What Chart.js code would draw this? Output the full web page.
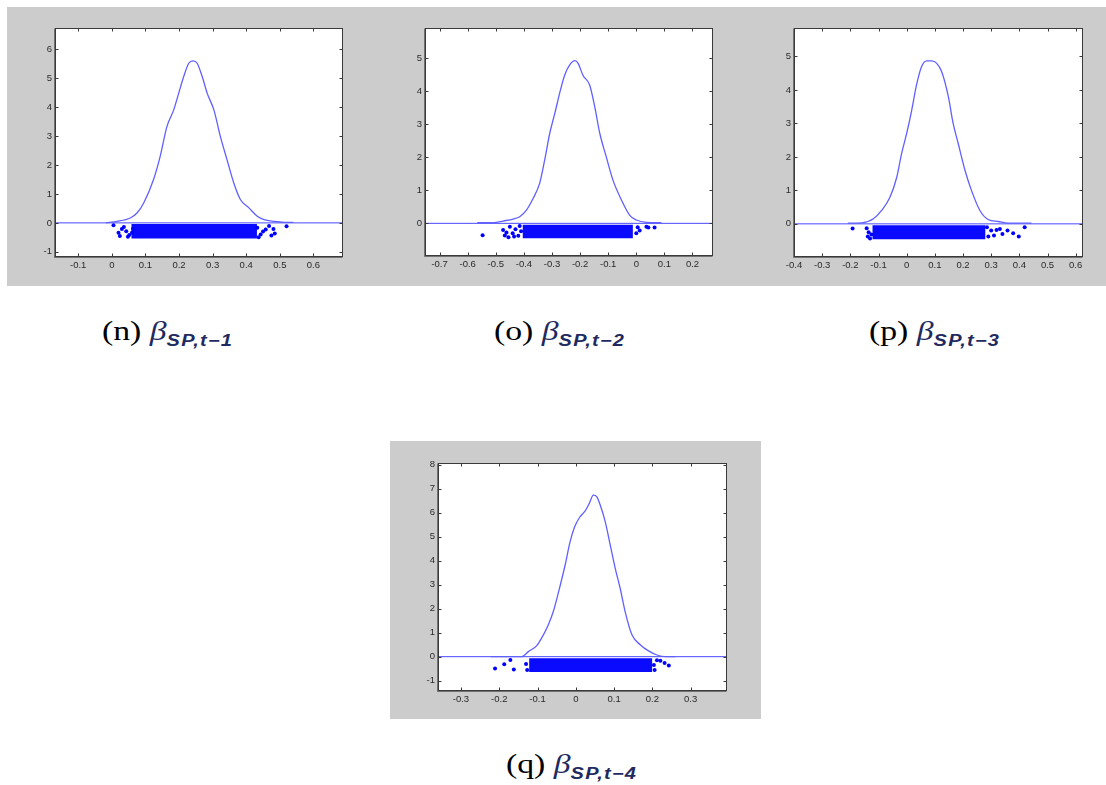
<!DOCTYPE html>
<html>
<head>
<meta charset="utf-8">
<script src="https://cdn.jsdelivr.net/npm/chart.js@4.4.1/dist/chart.umd.min.js"></script>
<style>
  html, body { margin: 0; padding: 0; background: #fff; width: 1106px; height: 785px; overflow: hidden; position: relative; }
  .bg { position: absolute; background: #cccccc; }
  .panel { position: absolute; }
  .panel canvas { display: block; }
  .cap { position: absolute; font-family: "Liberation Serif", "Times New Roman", serif; font-size: 27px; line-height: 27px;
         color: #000; white-space: nowrap; transform: scaleX(1.25); transform-origin: 0 0; }
  .cap .b { font-style: italic; color: #1f2a60; }
  .cap .s { font-family: "Liberation Sans", Arial, sans-serif; font-weight: bold; font-style: italic; font-size: 16px;
            letter-spacing: 1px; color: #1f2a60; position: relative; top: 6px; }
</style>
</head>
<body>
<div class="bg" style="left:7px;top:7px;width:1099px;height:279px"></div>
<div class="bg" style="left:390px;top:441px;width:371px;height:278px"></div>

<div class="panel" style="left:7px;top:7px"><canvas id="cn" width="365" height="279"></canvas></div>
<div class="panel" style="left:372px;top:7px"><canvas id="co" width="363" height="279"></canvas></div>
<div class="panel" style="left:735px;top:7px"><canvas id="cp" width="371" height="279"></canvas></div>
<div class="panel" style="left:390px;top:441px"><canvas id="cq" width="371" height="278"></canvas></div>

<div class="cap" style="left:102px;top:318px">(n) <span class="b">β</span><span class="s">SP,t−1</span></div>
<div class="cap" style="left:494px;top:318px">(o) <span class="b">β</span><span class="s">SP,t−2</span></div>
<div class="cap" style="left:869px;top:318px">(p) <span class="b">β</span><span class="s">SP,t−3</span></div>
<div class="cap" style="left:506px;top:751px">(q) <span class="b">β</span><span class="s">SP,t−4</span></div>

<script>
// ---- (n) beta SP,t-1 ----
const nCurveX = [-0.017, 0.015, 0.055, 0.075, 0.095, 0.124, 0.144, 0.164, 0.184, 0.199, 0.214, 0.229, 0.242, 0.254, 0.269, 0.284, 0.304, 0.323, 0.343, 0.363, 0.383, 0.408, 0.433, 0.453, 0.483, 0.512, 0.540];
const nCurveY = [0.00, 0.05, 0.17, 0.34, 0.69, 1.49, 2.30, 3.33, 3.90, 4.48, 5.06, 5.52, 5.60, 5.52, 5.06, 4.48, 3.90, 2.99, 2.18, 1.38, 0.80, 0.52, 0.23, 0.11, 0.05, 0.02, 0.02];
const nBandX = [0.058, 0.432];
const nBandY = [-0.04, -0.54];
const nOutX = [0.005, 0.020, 0.024, 0.030, 0.036, 0.043, 0.048, 0.052, 0.060, 0.063, 0.433, 0.437, 0.443, 0.450, 0.458, 0.468, 0.475, 0.481, 0.485, 0.520];
const nOutY = [-0.08, -0.34, -0.45, -0.21, -0.14, -0.29, -0.48, -0.42, -0.34, -0.20, -0.17, -0.50, -0.40, -0.30, -0.23, -0.11, -0.44, -0.21, -0.37, -0.12];
const nXRange = [-0.169, 0.688];
const nYRange = [-1.18, 6.74];
const nXTicks = [-0.1, 0, 0.1, 0.2, 0.3, 0.4, 0.5, 0.6];
const nYTicks = [-1, 0, 1, 2, 3, 4, 5, 6];

// ---- (o) beta SP,t-2 ----
const oCurveX = [-0.566, -0.507, -0.474, -0.438, -0.415, -0.391, -0.367, -0.344, -0.326, -0.308, -0.290, -0.273, -0.255, -0.237, -0.219, -0.207, -0.190, -0.166, -0.148, -0.130, -0.107, -0.083, -0.053, -0.024, 0.000, 0.036, 0.089];
const oCurveY = [0.02, 0.02, 0.07, 0.13, 0.20, 0.40, 0.76, 1.21, 1.92, 2.73, 3.33, 3.94, 4.49, 4.80, 4.93, 4.85, 4.49, 4.19, 3.54, 2.73, 2.02, 1.31, 0.71, 0.25, 0.10, 0.03, 0.02];
const oBandX = [-0.405, -0.012];
const oBandY = [-0.04, -0.45];
const oOutX = [-0.547, -0.474, -0.468, -0.462, -0.455, -0.450, -0.440, -0.435, -0.430, -0.420, -0.415, -0.410, 0.000, 0.005, 0.012, 0.036, 0.043, 0.065];
const oOutY = [-0.36, -0.20, -0.37, -0.28, -0.42, -0.10, -0.30, -0.40, -0.18, -0.38, -0.08, -0.24, -0.30, -0.12, -0.22, -0.10, -0.13, -0.13];
const oXRange = [-0.752, 0.273];
const oYRange = [-0.99, 5.92];
const oXTicks = [-0.7, -0.6, -0.5, -0.4, -0.3, -0.2, -0.1, 0, 0.1, 0.2];
const oYTicks = [0, 1, 2, 3, 4, 5];

// ---- (p) beta SP,t-3 ----
const pCurveX = [-0.209, -0.159, -0.118, -0.089, -0.059, -0.035, -0.018, 0.000, 0.018, 0.035, 0.053, 0.071, 0.089, 0.106, 0.124, 0.148, 0.165, 0.183, 0.207, 0.230, 0.260, 0.289, 0.325, 0.360, 0.443];
const pCurveY = [0.02, 0.03, 0.15, 0.40, 0.80, 1.40, 2.10, 2.70, 3.40, 4.15, 4.70, 4.87, 4.87, 4.80, 4.55, 3.80, 3.00, 2.40, 1.60, 1.00, 0.40, 0.13, 0.07, 0.02, 0.02];
const pBandX = [-0.122, 0.280];
const pBandY = [-0.04, -0.46];
const pOutX = [-0.192, -0.142, -0.138, -0.135, -0.130, -0.125, 0.285, 0.290, 0.300, 0.310, 0.319, 0.331, 0.340, 0.358, 0.378, 0.398, 0.419];
const pOutY = [-0.14, -0.13, -0.38, -0.25, -0.44, -0.32, -0.10, -0.38, -0.20, -0.35, -0.18, -0.15, -0.30, -0.20, -0.28, -0.38, -0.10];
const pXRange = [-0.40, 0.626];
const pYRange = [-0.99, 5.85];
const pXTicks = [-0.4, -0.3, -0.2, -0.1, 0, 0.1, 0.2, 0.3, 0.4, 0.5, 0.6];
const pYTicks = [0, 1, 2, 3, 4, 5];

// ---- (q) beta SP,t-4 ----
const qCurveX = [-0.222, -0.141, -0.124, -0.102, -0.085, -0.072, -0.059, -0.045, -0.028, -0.015, -0.003, 0.011, 0.024, 0.035, 0.046, 0.055, 0.064, 0.077, 0.090, 0.103, 0.116, 0.129, 0.147, 0.169, 0.190, 0.212, 0.234, 0.260];
const qCurveY = [0.00, 0.00, 0.21, 0.46, 0.90, 1.32, 1.87, 2.70, 3.81, 4.78, 5.41, 5.83, 6.06, 6.38, 6.73, 6.66, 6.31, 5.62, 4.65, 3.68, 2.84, 1.87, 0.90, 0.49, 0.24, 0.07, 0.00, 0.00];
const qBandX = [-0.122, 0.200];
const qBandY = [-0.07, -0.64];
const qOutX = [-0.211, -0.187, -0.171, -0.162, -0.130, -0.127, 0.204, 0.206, 0.212, 0.221, 0.232, 0.243];
const qOutY = [-0.49, -0.32, -0.14, -0.53, -0.30, -0.55, -0.35, -0.55, -0.15, -0.17, -0.26, -0.37];
const qXRange = [-0.36, 0.395];
const qYRange = [-1.43, 8.07];
const qXTicks = [-0.3, -0.2, -0.1, 0, 0.1, 0.2, 0.3];
const qYTicks = [-1, 0, 1, 2, 3, 4, 5, 6, 7, 8];

const zip = (xs, ys) => xs.map((x, i) => ({ x, y: ys[i] }));
const fmt = v => { const r = Math.round(v * 10) / 10; return r === 0 ? '0' : String(r); };

// White axes box with inward tick marks on all four sides
const framePlugin = {
  id: 'frame',
  beforeDatasetsDraw(chart) {
    const { ctx, chartArea: a } = chart;
    ctx.save();
    ctx.fillStyle = '#ffffff';
    ctx.fillRect(a.left, a.top, a.right - a.left, a.bottom - a.top);
    ctx.restore();
  },
  afterDraw(chart) {
    const { ctx, chartArea: a, scales: { x, y } } = chart;
    const L = Math.round(a.left) + 0.5, R = Math.round(a.right) - 0.5;
    const T = Math.round(a.top) + 0.5, B = Math.round(a.bottom) - 0.5;
    ctx.save();
    ctx.strokeStyle = '#3a3a3a';
    ctx.lineWidth = 1;
    ctx.beginPath();
    x.ticks.forEach(t => {
      const px = Math.round(x.getPixelForValue(t.value)) + 0.5;
      if (px < L - 1 || px > R + 1) return;
      ctx.moveTo(px, B); ctx.lineTo(px, B - 3);
      ctx.moveTo(px, T); ctx.lineTo(px, T + 3);
    });
    y.ticks.forEach(t => {
      const py = Math.round(y.getPixelForValue(t.value)) + 0.5;
      ctx.moveTo(L, py); ctx.lineTo(L + 3, py);
      ctx.moveTo(R, py); ctx.lineTo(R - 3, py);
    });
    ctx.stroke();
    ctx.strokeRect(L, T, R - L, B - T);
    ctx.strokeStyle = 'rgba(40,40,40,0.55)';
    ctx.beginPath();
    ctx.moveTo(L - 1, T); ctx.lineTo(L - 1, B + 1); ctx.lineTo(R, B + 1);
    ctx.stroke();
    ctx.restore();
  }
};

function makePanel(id, cfg) {
  const tickFont = { family: '"Liberation Sans", Arial, sans-serif', size: 9.5 };
  new Chart(document.getElementById(id), {
    type: 'scatter',
    data: {
      datasets: [
        { // zero reference line
          data: [{ x: cfg.xRange[0], y: 0 }, { x: cfg.xRange[1], y: 0 }],
          showLine: true, borderColor: '#4848ff', borderWidth: 1, pointRadius: 0, order: 3
        },
        { // dense block of draws
          data: [{ x: cfg.bandX[0], y: cfg.bandY[0] }, { x: cfg.bandX[1], y: cfg.bandY[0] }],
          showLine: true, borderWidth: 0, borderColor: '#0000ff', backgroundColor: '#0a0aff',
          fill: { value: cfg.bandY[1] }, pointRadius: 0, order: 2
        },
        { // scattered draws at the tails
          data: zip(cfg.outX, cfg.outY),
          pointRadius: 2, pointBorderWidth: 0, backgroundColor: '#0000ff', order: 1
        },
        { // kernel density
          data: zip(cfg.curveX, cfg.curveY),
          showLine: true, borderColor: '#6060ff', borderWidth: 1.3, pointRadius: 0,
          cubicInterpolationMode: 'monotone', order: 0
        }
      ]
    },
    options: {
      responsive: false,
      animation: false,
      events: [],
      layout: { padding: cfg.pad },
      plugins: { legend: { display: false }, tooltip: { enabled: false }, title: { display: false } },
      scales: {
        x: {
          type: 'linear', min: cfg.xRange[0], max: cfg.xRange[1],
          afterBuildTicks: s => { s.ticks = cfg.xTicks.map(v => ({ value: v })); },
          afterFit: s => { s.height = cfg.xH; },
          grid: { display: false, drawTicks: false }, border: { display: false },
          ticks: { padding: 3, font: tickFont, color: '#2a2a2a', maxRotation: 0, autoSkip: false, callback: v => fmt(v) }
        },
        y: {
          type: 'linear', min: cfg.yRange[0], max: cfg.yRange[1],
          afterBuildTicks: s => { s.ticks = cfg.yTicks.map(v => ({ value: v })); },
          afterFit: s => { s.width = cfg.yW; },
          grid: { display: false, drawTicks: false }, border: { display: false },
          ticks: { padding: 3, font: tickFont, color: '#2a2a2a', autoSkip: false, callback: v => fmt(v) }
        }
      }
    },
    plugins: [framePlugin]
  });
}

makePanel('cn', { curveX: nCurveX, curveY: nCurveY, bandX: nBandX, bandY: nBandY, outX: nOutX, outY: nOutY,
  xRange: nXRange, yRange: nYRange, xTicks: nXTicks, yTicks: nYTicks,
  pad: { left: 0, top: 21, right: 29, bottom: 0 }, yW: 48, xH: 29 });
makePanel('co', { curveX: oCurveX, curveY: oCurveY, bandX: oBandX, bandY: oBandY, outX: oOutX, outY: oOutY,
  xRange: oXRange, yRange: oYRange, xTicks: oXTicks, yTicks: oYTicks,
  pad: { left: 0, top: 21, right: 22, bottom: 0 }, yW: 53, xH: 30 });
makePanel('cp', { curveX: pCurveX, curveY: pCurveY, bandX: pBandX, bandY: pBandY, outX: pOutX, outY: pOutY,
  xRange: pXRange, yRange: pYRange, xTicks: pXTicks, yTicks: pYTicks,
  pad: { left: 0, top: 21, right: 23, bottom: 0 }, yW: 59, xH: 29 });
makePanel('cq', { curveX: qCurveX, curveY: qCurveY, bandX: qBandX, bandY: qBandY, outX: qOutX, outY: qOutY,
  xRange: qXRange, yRange: qYRange, xTicks: qXTicks, yTicks: qYTicks,
  pad: { left: 0, top: 22, right: 34, bottom: 0 }, yW: 48, xH: 28 });
</script>
</body>
</html>
